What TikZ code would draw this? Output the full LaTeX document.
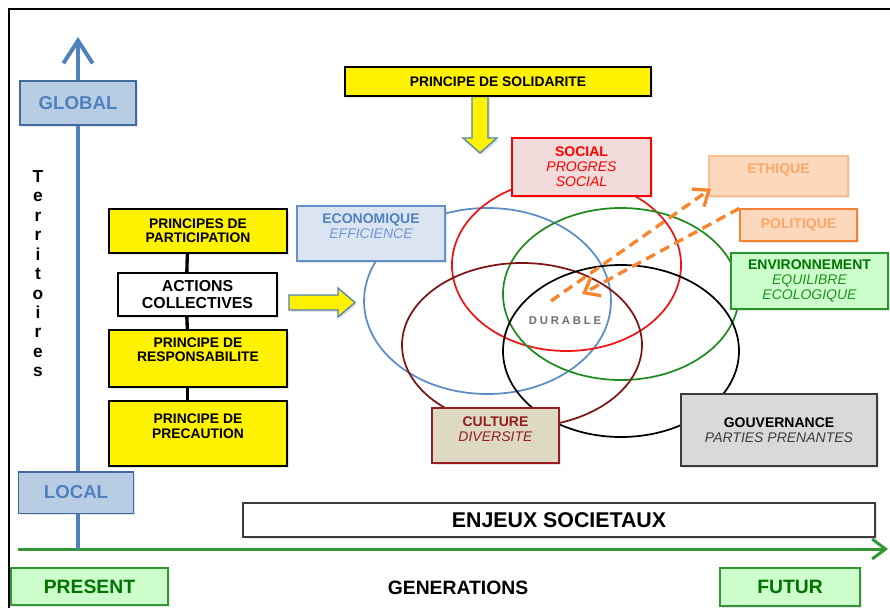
\documentclass[tikz,border=0pt]{standalone}
\usepackage{fontspec}
\setmainfont{Liberation Sans}
\usetikzlibrary{arrows.meta,shadows}

\definecolor{axisblue}{RGB}{79,129,189}
\definecolor{globfill}{RGB}{184,204,228}
\definecolor{globline}{RGB}{65,105,160}
\definecolor{ecofill}{RGB}{219,229,241}
\definecolor{ecoline}{RGB}{100,145,205}
\definecolor{ecoitalic}{RGB}{110,150,210}
\definecolor{socfill}{RGB}{242,220,219}
\definecolor{ethfill}{RGB}{252,216,188}
\definecolor{ethline}{RGB}{250,190,140}
\definecolor{ethtext}{RGB}{250,168,105}
\definecolor{polline}{RGB}{245,130,50}
\definecolor{envfill}{RGB}{204,255,204}
\definecolor{envline}{RGB}{40,150,40}
\definecolor{envtext}{RGB}{0,115,0}
\definecolor{envitalic}{RGB}{30,145,30}
\definecolor{culfill}{RGB}{221,217,195}
\definecolor{culline}{RGB}{150,30,30}
\definecolor{govfill}{RGB}{217,217,217}
\definecolor{govline}{RGB}{60,60,60}
\definecolor{dashorange}{RGB}{248,132,45}
\definecolor{timegreen}{RGB}{50,150,50}
\definecolor{ringblue}{RGB}{90,140,200}
\definecolor{ringred}{RGB}{240,20,20}
\definecolor{ringgreen}{RGB}{30,140,30}
\definecolor{ringbrown}{RGB}{125,20,20}
\definecolor{durgray}{RGB}{110,110,110}

\begin{document}
\begin{tikzpicture}[x=0.75pt, y=-0.75pt,
	box/.style={draw, rectangle, align=center, inner sep=2pt, line width=1pt,
		font=\fontsize{10.5}{11.3}\selectfont,
		drop shadow={shadow xshift=1.5pt, shadow yshift=-1.5pt, opacity=0.2}},
	yellowbox/.style={box, fill=yellow, draw=black, font=\fontsize{10.4}{10.8}\selectfont\bfseries},
	axisbox/.style={box, fill=globfill, draw=globline, text=axisblue, font=\fontsize{14}{16}\selectfont\bfseries},
	timebox/.style={box, fill=envfill, draw=timegreen, text=envtext, font=\fontsize{14.5}{16}\selectfont\bfseries},
	ring/.style={line width=1.3pt},
	link/.style={line width=2.5pt},
	dasharrow/.style={dashorange, line width=2.5pt, dash pattern=on 7.5pt off 4.5pt,
		-{Straight Barb[length=10pt,width=16pt]}},
	blockarrow/.style={fill=yellow, draw=axisblue, line width=1pt,
		drop shadow={shadow xshift=1.5pt, shadow yshift=-1.5pt, opacity=0.2}}]

	\useasboundingbox[fill=white] (0,0) rectangle (890,608);
	\draw[line width=1.5pt] (9,608) -- (9,9) -- (890,9);

	\coordinate (orig)   at (78,549);
	\coordinate (ytop)   at (78,37);
	\coordinate (xstart) at (18,549);
	\coordinate (xend)   at (888,549);
	\draw[timegreen, line width=2.25pt, -{Straight Barb[length=10pt,width=15pt]}] (xstart) -- (xend);
	\draw[axisblue, line width=3pt, -{Straight Barb[length=17pt,width=22pt]}] (orig) -- (ytop);

	\draw[ring, ringblue]  (487.5,301) ellipse [x radius=92.6pt, y radius=69.75pt];
	\draw[ring, ringred]   (566.5,265) ellipse [x radius=85.9pt, y radius=64.5pt];
	\draw[ring, ringgreen] (621,294)   ellipse [x radius=88.5pt, y radius=64.5pt];
	\draw[ring, ringbrown] (522,345)   ellipse [x radius=90pt,   y radius=61.5pt];
	\draw[ring, black]     (621,351)   ellipse [x radius=88.5pt, y radius=64.5pt];

	\draw[blockarrow] (472,96) -- (472,138) -- (463,138) -- (480,153) -- (497,138) -- (488,138) -- (488,96) -- cycle;
	\draw[blockarrow] (289,295) -- (338,295) -- (338,288) -- (355,302.5) -- (338,317) -- (338,310) -- (289,310) -- cycle;

	\node[axisbox, minimum width=87pt, minimum height=33pt]   (glob) at (78,103)   {GLOBAL};
	\node[axisbox, minimum width=86pt, minimum height=31pt]   (loc)  at (76,492.5) {LOCAL};
	\node[font=\fontsize{13}{14.6}\selectfont\bfseries, align=center, anchor=north, inner sep=0pt]
		(terr) at (38,170) {T\\e\\r\\r\\i\\t\\o\\i\\r\\e\\s};

	\node[yellowbox, minimum width=229.5pt, minimum height=21.75pt] (solid) at (498,81.5) {PRINCIPE DE SOLIDARITE};

	\node[yellowbox, minimum width=133.5pt, minimum height=33pt] (partic) at (198,231) {PRINCIPES DE\\PARTICIPATION};
	\node[box, fill=white, draw=black, minimum width=119.25pt, minimum height=32.25pt,
		font=\fontsize{11.9}{12.8}\selectfont\bfseries] (actions) at (197.5,294.5) {ACTIONS\\COLLECTIVES};
	\node[yellowbox, minimum width=133.5pt, minimum height=42.75pt, text depth=13.5pt]
		(respons) at (198,358.5) {PRINCIPE DE\\RESPONSABILITE};
	\node[yellowbox, minimum width=133.5pt, minimum height=48.75pt, text depth=11.2pt]
		(precaut) at (198,433.5) {PRINCIPE DE\\PRECAUTION};

	\path[link] ([xshift=-8pt]partic.south)  edge ([xshift=-8pt]actions.north);
	\path[link] ([xshift=-8pt]actions.south) edge ([xshift=-8pt]respons.north);
	\path[link] ([xshift=-8pt]respons.south) edge ([xshift=-8pt]precaut.north);

	\node[box, fill=ecofill, draw=ecoline, minimum width=111pt, minimum height=41.25pt, text depth=10.5pt]
		(eco) at (371,233.5) {\textcolor{axisblue}{\bfseries ECONOMIQUE}\\\textcolor{ecoitalic}{\itshape EFFICIENCE}};
	\node[box, fill=socfill, draw=red, text=red, minimum width=104.25pt, minimum height=43.5pt]
		(soc) at (581.5,167) {\textbf{SOCIAL}\\\textit{PROGRES}\\\textit{SOCIAL}};
	\node[box, fill=ethfill, draw=ethline, text=ethtext, minimum width=104.25pt, minimum height=30pt,
		text height=7.5pt, text depth=12pt, font=\fontsize{10.5}{11.3}\selectfont\bfseries] (eth) at (778.5,176) {ETHIQUE};
	\node[box, fill=ethfill, draw=polline, text=ethtext, minimum width=87.75pt, minimum height=24pt,
		font=\fontsize{10.5}{11.3}\selectfont\bfseries] (pol) at (798.5,225) {POLITIQUE};
	\node[box, fill=envfill, draw=envline, minimum width=117.75pt, minimum height=42pt]
		(env) at (809.5,281) {\textcolor{envtext}{\bfseries ENVIRONNEMENT}\\\textcolor{envitalic}{\itshape EQUILIBRE}\\\textcolor{envitalic}{\itshape ECOLOGIQUE}};
	\node[box, fill=culfill, draw=culline, text=culline, minimum width=95.25pt, minimum height=41.25pt,
		text depth=9pt] (cul) at (495.5,435.5) {\textbf{CULTURE}\\\textit{DIVERSITE}};
	\node[box, fill=govfill, draw=govline, minimum width=147pt, minimum height=54pt]
		(gov) at (779,430) {\textbf{GOUVERNANCE}\\\textcolor{govline}{\itshape PARTIES PRENANTES}};
	\node[text=durgray, font=\fontsize{8.5}{10}\selectfont\bfseries\addfontfeature{LetterSpace=25}] (dur) at (565,321) {DURABLE};

	\coordinate (dfrom) at (551,301);
	\coordinate (dto)   at (582,294);
	\draw[dasharrow] (dfrom) -- ([shift={(2pt,6pt)}]eth.south west);
	\draw[dasharrow] (pol.north west) -- (dto);

	\node[box, fill=white, draw=govline, minimum width=474pt, minimum height=25.5pt,
		font=\fontsize{16}{18}\selectfont\bfseries] (enjeux) at (559,520) {ENJEUX SOCIETAUX};
	\node[timebox, minimum width=117.75pt, minimum height=27.75pt] (pres) at (89.5,586.5) {PRESENT};
	\node[timebox, minimum width=105pt, minimum height=28.5pt]     (fut)  at (790,587)    {FUTUR};
	\node[font=\fontsize{14.5}{16}\selectfont\bfseries] (gen) at (458,588) {GENERATIONS};
\end{tikzpicture}
\end{document}
